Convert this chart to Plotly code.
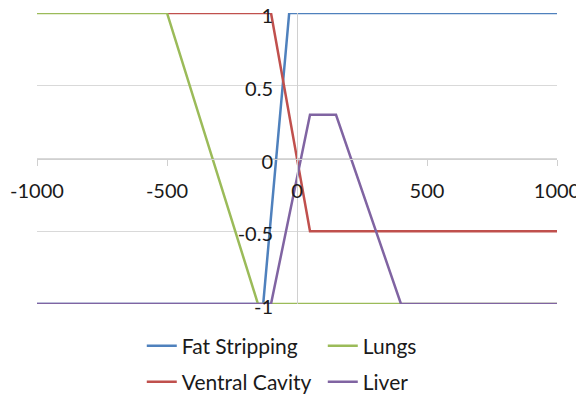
import plotly.graph_objects as go

# membership curves
fat_x = [-1000, -130, -30, 1000]
fat_y = [-1, -1, 1, 1]

ventral_x = [-500, -100, 50, 1000]
ventral_y = [1, 1, -0.5, -0.5]

lungs_x = [-1000, -500, -150, 400, 1000]
lungs_y = [1, 1, -1, -1, -1]

liver_x = [-1000, -100, 50, 150, 400, 1000]
liver_y = [-1, -1, 0.3, 0.3, -1, -1]

x_ticks = [-1000, -500, 0, 500, 1000]
x_labels = ["-1000", "-500", "0", "500", "1000"]
y_ticks = [-1, -0.5, 0, 0.5, 1]
y_labels = ["-1", "-0.5", "0", "0.5", "1"]

FONT = "Lato, 'Open Sans', sans-serif"

fig = go.Figure()

fig.add_trace(go.Scatter(x=fat_x, y=fat_y, mode="lines", name="Fat Stripping",
                         line=dict(color="#4F81BD", width=2.5), legend="legend"))
fig.add_trace(go.Scatter(x=ventral_x, y=ventral_y, mode="lines", name="Ventral Cavity",
                         line=dict(color="#C0504D", width=2.5), legend="legend2"))
fig.add_trace(go.Scatter(x=lungs_x, y=lungs_y, mode="lines", name="Lungs",
                         line=dict(color="#9BBB59", width=2.5), legend="legend"))
fig.add_trace(go.Scatter(x=liver_x, y=liver_y, mode="lines", name="Liver",
                         line=dict(color="#8064A2", width=2.5), legend="legend2"))

leg = dict(orientation="h", xref="paper", yref="paper", x=0.2015,
           xanchor="left", yanchor="middle", entrywidth=136,
           font=dict(family=FONT, size=21, color="#1a1a1a"),
           bgcolor="rgba(0,0,0,0)", traceorder="normal")

# the page body adds an 8px offset, so the figure is 8px smaller and left/top margins shrink
fig.update_layout(
    width=576, height=388,
    margin=dict(l=29, r=27, t=5, b=92, autoexpand=False),
    paper_bgcolor="white", plot_bgcolor="white",
    font=dict(family=FONT, size=20, color="#1a1a1a"),
    legend=dict(leg, y=-0.1443),
    legend2=dict(leg, y=-0.268),
    xaxis=dict(range=[-1000, 1000], anchor="free", position=0.5,
               tickvals=x_ticks, ticktext=x_labels,
               showgrid=False, zeroline=False,
               showline=True, linecolor="#D0D0D0", linewidth=1,
               ticks="outside", ticklen=6, tickcolor="#D0D0D0",
               ticklabelstandoff=8, ticklabeloverflow="allow",
               automargin=False),
    yaxis=dict(range=[-1, 1], anchor="free", position=0.5, side="left",
               tickvals=y_ticks, ticktext=y_labels,
               showgrid=True, gridcolor="#D9D9D9", gridwidth=1,
               zeroline=False,
               showline=True, linecolor="#D0D0D0", linewidth=1,
               ticks="", ticklabelstandoff=20, ticklabelshift=3,
               ticklabeloverflow="allow", automargin=False),
)

fig.write_html("out.html")
